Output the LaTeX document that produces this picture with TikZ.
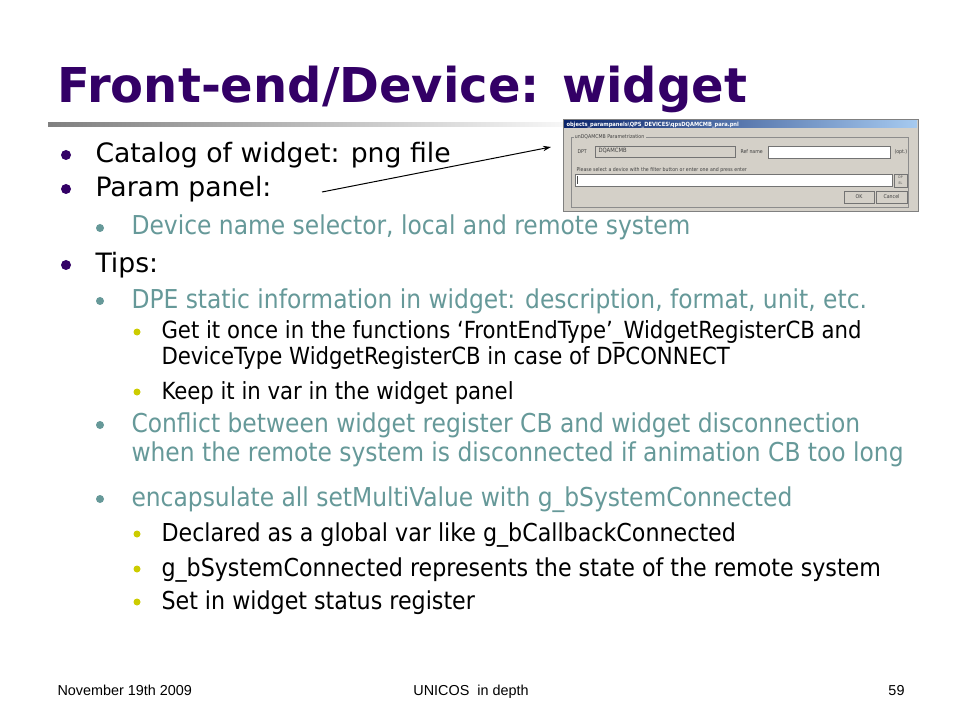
\documentclass[tikz,border=0pt]{standalone}
\usepackage{fontspec}
\setmainfont{DejaVu Sans Condensed}
\newfontfamily\widefont{DejaVu Sans}
\newfontfamily\footfont{Liberation Sans}
\usetikzlibrary{arrows.meta}
\definecolor{titlepurple}{HTML}{330066}
\definecolor{subteal}{HTML}{669999}
\definecolor{dotyellow}{HTML}{CCCC00}
\definecolor{wingray}{HTML}{D4D0C8}
\definecolor{winblue}{HTML}{0A246A}
\definecolor{winlight}{HTML}{A6CAF0}
\tikzset{
  levelone/.style={anchor=base west, inner sep=0pt, text=black, font=\widefont\fontsize{20}{24}\selectfont},
  leveltwo/.style={anchor=base west, inner sep=0pt, text=subteal, font=\fontsize{19.5}{24}\selectfont},
  levelthree/.style={anchor=base west, inner sep=0pt, text=black, font=\fontsize{17.7}{20}\selectfont},
  levelthreewide/.style={levelthree, font=\fontsize{18.5}{20}\selectfont},
  footer/.style={anchor=base, inner sep=0pt, font=\footfont\fontsize{10.8}{12}\selectfont},
  tinytext/.style={anchor=base west, inner sep=0pt, text=black!75, font=\fontsize{3.9}{4}\selectfont},
  winfield/.style={fill=white, draw=black!55},
  winbutton/.style={fill=wingray, draw=black!55},
}

\begin{document}
\begin{tikzpicture}[x=0.75pt, y=-0.75pt, line width=0.75pt]
% page
    \useasboundingbox (0, 0) rectangle (960, 720);
    \fill[white] (0, 0) rectangle (960, 720);

% title
    \node[anchor=base west, inner sep=0pt, text=titlepurple, font=\widefont\fontsize{36}{40}\selectfont\bfseries] (title) at (57, 103) {Front-end/Device: widget};

    % draw fading title bar
    \shade[left color=black!50, right color=white] (48, 123) rectangle (600, 127);

% bullets
    % level one
    \fill[titlepurple] (66, 155) circle (5);
    \node[levelone] (catalog) at (95, 163) {Catalog of widget: png file};
    \fill[titlepurple] (66, 189) circle (5);
    \node[levelone] (param) at (95, 197) {Param panel:};
    \fill[titlepurple] (66, 265) circle (5);
    \node[levelone] (tips) at (95, 273) {Tips:};

    % level two
    \fill[subteal] (100, 228) circle (4);
    \node[leveltwo] (selector) at (131, 235) {Device name selector, local and remote system};
    \fill[subteal] (100, 301) circle (4);
    \node[leveltwo] (static) at (131, 308) {DPE static information in widget: description, format, unit, etc.};
    \fill[subteal] (100, 425) circle (4);
    \node[leveltwo] (conflict) at (131, 432) {Conflict between widget register CB and widget disconnection};
    \node[leveltwo] (conflictb) at (131, 461) {when the remote system is disconnected if animation CB too long};
    \fill[subteal] (100, 499) circle (4);
    \node[leveltwo] (encaps) at (131, 506) {encapsulate all setMultiValue with g\_bSystemConnected};

    % level three
    \fill[dotyellow] (137, 332) circle (3.5);
    \node[levelthree] (getonce) at (161, 339) {Get it once in the functions `FrontEndType'\_WidgetRegisterCB and};
    \node[levelthree] (getonceb) at (161, 364) {DeviceType WidgetRegisterCB in case of DPCONNECT};
    \fill[dotyellow] (137, 392) circle (3.5);
    \node[levelthree] (keep) at (161, 399) {Keep it in var in the widget panel};
    \fill[dotyellow] (137, 534) circle (3.5);
    \node[levelthreewide] (declared) at (161, 541) {Declared as a global var like g\_bCallbackConnected};
    \fill[dotyellow] (137, 569) circle (3.5);
    \node[levelthreewide] (represents) at (161, 576) {g\_bSystemConnected represents the state of the remote system};
    \fill[dotyellow] (137, 602) circle (3.5);
    \node[levelthreewide] (setin) at (161, 609) {Set in widget status register};

% panel screenshot
    % draw window frame and title bar
    \filldraw[fill=wingray, draw=black!50] (563, 120) rectangle (918, 212);
    \shade[left color=winblue, right color=winlight] (564, 121) rectangle (917, 128);
    \node[anchor=west, inner sep=0pt, text=white, font=\fontsize{4.3}{5}\selectfont\bfseries] (wintitle) at (566, 124.5) {objects\_parampanels\textbackslash QPS\_DEVICES\textbackslash qpsDQAMCMB\_para.pnl};

    % draw group box
    \draw[black!45, line width=0.5pt] (571, 137) rectangle (908, 207);
    \node[anchor=west, inner xsep=1pt, inner ysep=0pt, fill=wingray, text=black!75, font=\fontsize{3.9}{4}\selectfont] (grouplabel) at (573, 137) {unDQAMCMB Parametrization};

    % draw fields
    \node[tinytext] (dptlabel) at (577, 154) {DPT};
    \filldraw[fill=wingray, draw=black!55, line width=0.5pt] (595, 146) rectangle (735, 157);
    \node[tinytext, font=\fontsize{4.4}{5}\selectfont] (dptname) at (598, 153) {DQAMCMB};
    \node[tinytext] (reflabel) at (740, 154) {Ref name};
    \filldraw[winfield, line width=0.5pt] (768, 146) rectangle (890, 158);
    \node[tinytext] (opt) at (894, 154) {(opt.)};
    \node[tinytext] (please) at (576, 172) {Please select a device with the filter button or enter one and press enter};
    \filldraw[winfield, line width=0.5pt] (575, 174) rectangle (892, 186);
    \draw[black!70, line width=0.4pt] (577.5, 176) -- (577.5, 184);

    % draw buttons
    \filldraw[winbutton, line width=0.5pt] (894, 174) rectangle (907, 187);
    \node[inner sep=0pt, text=black!70, font=\fontsize{2.5}{3}\selectfont] (filter) at (900.5, 180.5) {\shortstack{DP\\EL}};
    \filldraw[winbutton, line width=0.5pt] (844, 191) rectangle (874, 203);
    \node[inner sep=0pt, text=black!75, font=\fontsize{3.9}{4}\selectfont] (okbutton) at (859, 197) {OK};
    \filldraw[winbutton, line width=0.5pt] (876, 191) rectangle (907, 203);
    \node[inner sep=0pt, text=black!75, font=\fontsize{3.9}{4}\selectfont] (cancelbutton) at (891.5, 197) {Cancel};

% pointer to screenshot
    \coordinate (arrowstart) at (322, 192);
    \coordinate (arrowend) at (551, 147);
    \draw[line width=0.75pt, -{Stealth[length=6pt, width=4pt]}] (arrowstart) -- (arrowend);

% footer
    \node[footer, anchor=base west] (date) at (57, 695) {November 19th 2009};
    \node[footer] (course) at (471, 695) {UNICOS~~in depth};
    \node[footer, anchor=base east] (pageno) at (905, 695) {59};
\end{tikzpicture}
\end{document}
